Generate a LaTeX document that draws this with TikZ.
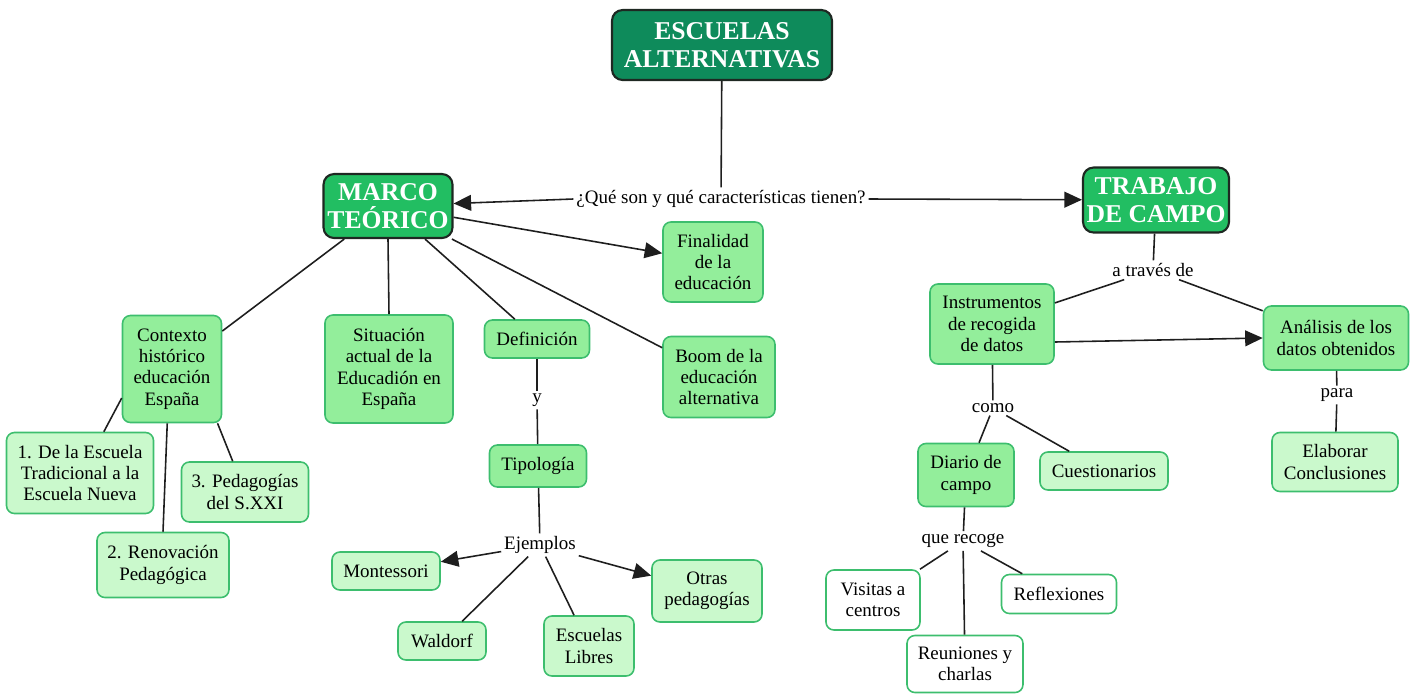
\documentclass[tikz,border=0pt]{standalone}
\usepackage{fontspec}
\setmainfont{Liberation Serif}
\usetikzlibrary{arrows.meta}

\definecolor{escdark}{RGB}{14,139,91}
\definecolor{headgreen}{RGB}{34,190,98}
\definecolor{boxlight}{RGB}{147,238,155}
\definecolor{boxpale}{RGB}{202,249,204}
\definecolor{boxline}{RGB}{61,190,110}
\definecolor{headline}{RGB}{30,40,34}
\definecolor{linkgray}{RGB}{30,30,30}

\tikzset{
  concept/.style={draw=boxline, line width=0.9pt, rounded corners=4.5pt, align=center,
    inner sep=2pt, font=\fontsize{10.8}{12.2}\selectfont},
  lightbox/.style={concept, fill=boxlight},
  palebox/.style={concept, fill=boxpale},
  whitebox/.style={concept, fill=white},
  headbox/.style={draw=headline, line width=1.2pt, rounded corners=6pt, align=center,
    fill=headgreen, text=white, inner sep=2pt, font=\fontsize{14.6}{16}\selectfont\bfseries},
  linkword/.style={inner sep=1.5pt, font=\fontsize{10.8}{12.2}\selectfont},
  link/.style={draw=linkgray, line width=0.9pt},
  linkarrow/.style={link, -{Triangle[length=10pt,width=9pt]}},
}

\begin{document}
\begin{tikzpicture}[x=0.02cm,y=-0.02cm]
\useasboundingbox (0,0) rectangle (1414,694);

% Main concept
\node[headbox, fill=escdark, minimum width=4.4cm, minimum height=1.4cm] (escuelas) at (722,45) {ESCUELAS\\ALTERNATIVAS};
\node[linkword] (queson) at (721,199) {¿Qué son y qué características tienen?};

% Marco teorico branch
\node[headbox, minimum width=2.58cm, minimum height=1.28cm] (marco) at (388,206) {MARCO\\TEÓRICO};
\node[lightbox, minimum width=2.0cm, minimum height=1.6cm] (finalidad) at (713,262) {Finalidad\\de la\\educación};
\node[lightbox, minimum width=2.24cm, minimum height=1.62cm] (boom) at (719,377) {Boom de la\\educación\\alternativa};
\node[lightbox, minimum width=2.1cm, minimum height=0.76cm] (definicion) at (537,339) {Definición};
\node[lightbox, minimum width=2.56cm, minimum height=2.16cm] (situacion) at (389,369) {Situación\\actual de la\\Educadión en\\España};
\node[lightbox, minimum width=1.98cm, minimum height=2.14cm] (contexto) at (172,369) {Contexto\\histórico\\educación\\España};
\node[palebox, minimum width=2.94cm, minimum height=1.62cm] (escuelauno) at (80,473) {1. De la Escuela\\Tradicional a la\\Escuela Nueva};
\node[palebox, minimum width=2.64cm, minimum height=1.3cm] (renovacion) at (163,565) {2. Renovación\\Pedagógica};
\node[palebox, minimum width=2.54cm, minimum height=1.2cm] (pedagogias) at (245,492) {3. Pedagogías\\del S.XXI};
\node[linkword] (y) at (537,400) {y};
\node[lightbox, minimum width=1.94cm, minimum height=0.84cm] (tipologia) at (538,466) {Tipología};
\node[linkword] (ejemplos) at (540,545) {Ejemplos};
\node[palebox, minimum width=2.16cm, minimum height=0.76cm] (montessori) at (386,571) {Montessori};
\node[palebox, minimum width=1.76cm, minimum height=0.76cm] (waldorf) at (442,641) {Waldorf};
\node[palebox, minimum width=1.8cm, minimum height=1.2cm] (libres) at (589,646) {Escuelas\\Libres};
\node[palebox, minimum width=2.2cm, minimum height=1.24cm] (otras) at (707,591) {Otras\\pedagogías};

% Trabajo de campo branch
\node[headbox, minimum width=2.86cm, minimum height=1.3cm] (trabajo) at (1156,200) {TRABAJO\\DE CAMPO};
\node[linkword] (traves) at (1153,270) {a través de};
\node[lightbox, minimum width=2.48cm, minimum height=1.6cm] (instrumentos) at (992,324) {Instrumentos\\de recogida\\de datos};
\node[lightbox, minimum width=2.9cm, minimum height=1.28cm] (analisis) at (1336,338) {Análisis de los\\datos obtenidos};
\node[linkword] (para) at (1337,395) {para};
\node[palebox, minimum width=2.52cm, minimum height=1.18cm] (elaborar) at (1335,462) {Elaborar\\Conclusiones};
\node[linkword] (como) at (993,408) {como};
\node[lightbox, minimum width=1.92cm, minimum height=1.26cm] (diario) at (966,475) {Diario de\\campo};
\node[palebox, minimum width=2.56cm, minimum height=0.76cm] (cuestionarios) at (1104,471) {Cuestionarios};
\node[linkword] (recoge) at (963,541) {que recoge};
\node[whitebox, minimum width=1.88cm, minimum height=1.2cm] (visitas) at (873,600) {Visitas a\\centros};
\node[whitebox, minimum width=2.32cm, minimum height=1.14cm] (reuniones) at (965,664) {Reuniones y\\charlas};
\node[whitebox, minimum width=2.3cm, minimum height=0.78cm] (reflexiones) at (1059,594) {Reflexiones};

% Links from the main concept
\draw[link] (escuelas) -- (queson);
\draw[linkarrow] (queson.west) -- (marco);
\draw[linkarrow] (queson.east) -- (trabajo);

% Links of marco teorico
\draw[linkarrow] (marco) -- (finalidad);
\draw[link] (marco) -- (boom);
\draw[link] (marco) -- (definicion);
\draw[link] (marco.south) -- (situacion.north);
\draw[link] (marco) -- (contexto);
\draw[link] (contexto.-150) -- (escuelauno.60);
\draw[link] (contexto.-95) -- (renovacion.north);
\draw[link] (contexto.-50) -- (pedagogias);
\draw[link] (definicion) -- (y);
\draw[link] (y) -- (tipologia);
\draw[link] (tipologia) -- (ejemplos);
\draw[linkarrow] (ejemplos) -- (montessori);
\draw[link] (ejemplos) -- (waldorf);
\draw[link] (ejemplos) -- (libres);
\draw[linkarrow] (ejemplos) -- (otras);

% Links of trabajo de campo
\draw[link] (trabajo) -- (traves);
\draw[link] (traves) -- (instrumentos);
\draw[link] (traves) -- (analisis);
\draw[linkarrow] (instrumentos.-16) -- (analisis.west);
\draw[link] (analisis) -- (para);
\draw[link] (para) -- (elaborar);
\draw[link] (instrumentos) -- (como);
\draw[link] (como) -- (diario);
\draw[link] (como) -- (cuestionarios);
\draw[link] (diario) -- (recoge);
\draw[link] (recoge) -- (visitas);
\draw[link] (recoge) -- (reuniones);
\draw[link] (recoge) -- (reflexiones);
\end{tikzpicture}
\end{document}
